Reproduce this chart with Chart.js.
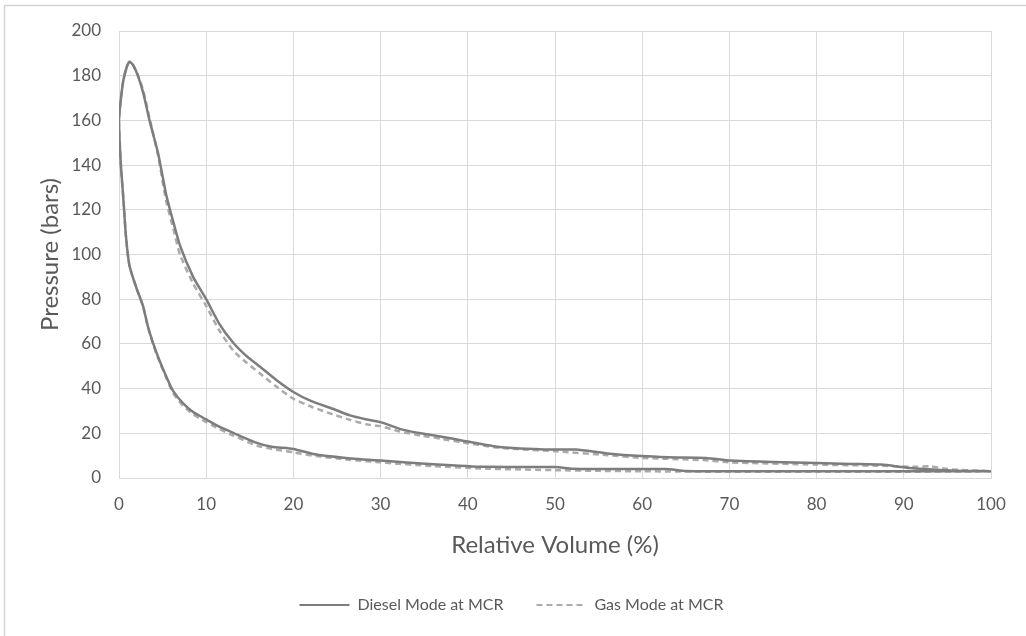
<!DOCTYPE html>
<html><head><meta charset="utf-8">
<script src="https://cdn.jsdelivr.net/npm/chart.js@4"></script>
<style>html,body{margin:0;padding:0;background:#fff}#wrap{position:relative;width:1026px;height:636px}</style>
</head><body><div id="wrap"><canvas id="c" width="1026" height="636"></canvas></div>
<script>
// Diesel mode loop: compression (V 100 -> 0) then expansion (V 0 -> 100)
const dieselVolume = [100,90,80,70,65,62.7,55,52,50,42,36,30,26,22.6,20,17.5,15.8,13.1,11.5,10,8.5,7.3,6.2,5.4,4.6,3.9,3.3,2.75,2,1.2,0.8,0.5,0.2,0,
  0.2,0.5,0.9,1.2,1.6,2.2,2.8,3.5,4.5,5.4,6.2,7,8.5,10,11.5,13.1,14.5,16.1,18,20,22,24.5,26.5,28.4,30,32.2,34.6,37,39.3,43,46,50,52.4,56,59.9,63,67.3,70.1,75,80,84,87.4,90.7,95.4,100];
const dieselPressure = [3,3,3,3,3.1,4,4,4.1,4.9,5,6.2,7.8,9,10.5,13,14,15.7,20.2,23,26.2,29.5,33.6,39,45.6,53,60.5,68,77,85,95,108,125,141,160,
  169,178,184,186.3,184.8,179.6,172,160,145,127,115,104,90,80,69,60.5,55,50,44,38.5,34.5,31,28,26.2,25,22,20,18.5,16.8,14.2,13.2,12.7,12.7,11,9.8,9.3,9,7.8,7.2,6.7,6.3,6,4.5,3.4,3];
// Gas mode loop
const gasVolume = [100,90,80,70,60,55,50,42,36,30,26,22.6,20,17.5,15.8,13.1,11.5,10,8.5,7.3,6.2,5.4,4.6,3.9,3.3,2.75,2,1.2,0.8,0.5,0.2,0,
  0.2,0.5,0.9,1.2,1.6,2.2,2.8,3.5,4.5,5.4,6.2,7,8.5,10,11.5,13.1,14.5,16.1,18,20,22,24.5,26.5,28.4,30,32.2,34.6,37,39.3,43,46,50,56,60,67,70,80,87,91,93,95,100];
const gasPressure = [3,2.8,2.8,2.8,3,3.2,3.5,4.2,5.3,7,8.3,9.8,11.5,13,14.5,19,22,25,28.5,32.5,38,45,52.5,60,68,77,85,95,108,125,141,160,
  169,178,184,186,185,180,173,161,144,124,112,100,87,77,66,57,52,47,41,35.5,32,28.5,26,24,23.2,20.8,19,17.5,16,13.8,12.8,12,10.2,9,8,7,6,5.5,5,5.2,4,3];
const seriesNames = ['Diesel Mode at MCR','Gas Mode at MCR'];
const xTitle = 'Relative Volume (%)';
const yTitle = 'Pressure (bars)';

const toPts = (xs, ys) => xs.map((v, i) => ({x: v, y: ys[i]}));
const txt = '#595959';
const gridC = '#d9d9d9';

const frame = {
  id: 'frame',
  beforeDraw(chart) {
    const c = chart.ctx;
    c.save();
    c.fillStyle = '#fff';
    c.fillRect(0, 0, chart.width, chart.height);
    c.strokeStyle = '#d4d4d4';
    c.lineWidth = 1.5;
    c.beginPath();
    c.moveTo(4.5, 636); c.lineTo(4.5, 5.5); c.lineTo(1026, 5.5);
    c.stroke();
    c.restore();
  }
};

new Chart(document.getElementById('c'), {
  type: 'scatter',
  data: {
    datasets: [
      {label: seriesNames[0], data: toPts(dieselVolume, dieselPressure), showLine: true,
       borderColor: '#7d7d7d', backgroundColor: '#7d7d7d', borderWidth: 2.5, pointRadius: 0,
       pointStyle: 'line', tension: 0.2, fill: false},
      {label: seriesNames[1], data: toPts(gasVolume, gasPressure), showLine: true,
       borderColor: '#ababab', backgroundColor: '#ababab', borderWidth: 2.5, borderDash: [6, 4], pointRadius: 0,
       pointStyle: 'line', tension: 0.2, fill: false}
    ]
  },
  options: {
    responsive: false, animation: false, devicePixelRatio: 1,
    layout: {padding: {left: 32, top: 31, right: 35, bottom: 13}},
    plugins: {
      tooltip: {enabled: false},
      legend: {position: 'bottom', labels: {usePointStyle: true, pointStyleWidth: 50, color: txt,
        font: {family: 'Lato', size: 16}, padding: 33,
        generateLabels(chart) {
          const items = Chart.defaults.plugins.legend.labels.generateLabels(chart);
          items.forEach(it => {
            const ds = chart.data.datasets[it.datasetIndex];
            it.lineDash = ds.borderDash || [];
            it.lineWidth = 2;
            it.strokeStyle = ds.borderColor;
          });
          return items;
        }}}
    },
    scales: {
      x: {type: 'linear', min: 0, max: 100,
        ticks: {stepSize: 10, color: txt, font: {family: 'Lato', size: 17}, padding: 16},
        grid: {color: gridC, drawTicks: false}, border: {color: gridC},
        title: {display: true, text: xTitle, color: txt, font: {family: 'Lato', size: 24}, padding: {top: 4, bottom: 4.5}},
        afterFit(s) { s.height = 86; }},
      y: {type: 'linear', min: 0, max: 200,
        ticks: {stepSize: 20, color: txt, font: {family: 'Lato', size: 17}, padding: 18},
        grid: {color: gridC, drawTicks: false}, border: {color: gridC},
        title: {display: true, text: yTitle, color: txt, font: {family: 'Lato', size: 24}, padding: {top: 4, bottom: 4}},
        afterFit(s) { s.width = 87; }}
    }
  },
  plugins: [frame]
});
</script></body></html>
